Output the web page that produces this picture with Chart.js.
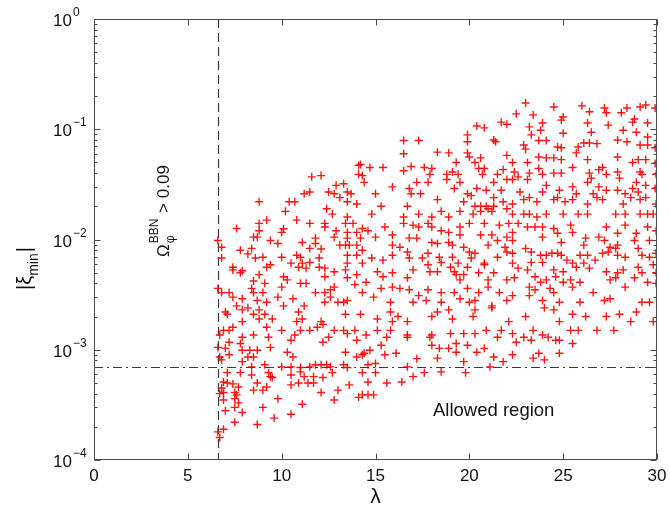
<!DOCTYPE html>
<html>
<head>
<meta charset="utf-8">
<script src="https://cdn.jsdelivr.net/npm/chart.js@4.4.0/dist/chart.umd.min.js"></script>
<style>
  html, body { margin: 0; padding: 0; background: #fff; }
  #wrap { width: 670px; height: 511px; }
</style>
</head>
<body>
<div id="wrap"><canvas id="c" width="670" height="511"></canvas></div>
<script>
// axis ticks
const xTicks = [0, 5, 10, 15, 20, 25, 30];
const yDecades = [-4, -3, -2, -1, 0];

// constraint lines
const lambdaCut = 6.6;   // Omega_phi^BBN > 0.09 to the left
const xiCut = 7e-4;      // allowed region below

// scan points [lambda, |xi_min|]
const samples = [
  [6.6,0.0098],[6.8,0.0085],[6.8,0.0068],[7.6,0.0126],[7.8,0.0080],[8.2,0.0074],[8.4,0.0083],[8.5,0.0105],
  [8.7,0.0105],[8.8,0.012],[8.8,0.014],[9.2,0.015],[8.8,0.022],[8.6,0.0068],[9.0,0.0069],[9.4,0.0098],
  [9.8,0.0092],[10.0,0.0116],[10.1,0.0125],[10.2,0.018],[10.4,0.022],[10.7,0.022],[10.8,0.015],[10.0,0.0069],
  [10.8,0.0072],[11.1,0.0094],[11.2,0.026],[11.5,0.027],[11.6,0.037],[12.1,0.038],[11.5,0.014],[11.5,0.0083],
  [11.8,0.0092],[12.1,0.0082],[12.3,0.014],[12.3,0.013],[12.4,0.019],[12.7,0.017],[12.5,0.027],[12.8,0.026],
  [12.9,0.031],[13.3,0.032],[13.1,0.024],[13.5,0.027],[13.7,0.026],[13.5,0.022],[14.0,0.021],[14.1,0.047],
  [14.1,0.039],[13.5,0.016],[13.4,0.014],[13.8,0.014],[12.9,0.012],[13.5,0.0116],[12.8,0.0105],[13.1,0.0089],
  [13.4,0.0089],[13.6,0.0089],[14.0,0.0089],[13.5,0.0103],[14.0,0.0116],[11.0,0.0069],[12.0,0.0068],[13.5,0.0072],
  [14.0,0.0072],[11.8,0.0103],
  [7.4,0.0056],[7.4,0.0053],[7.8,0.0050],[7.9,0.0052],[8.8,0.0048],[9.4,0.0059],[9.2,0.0056],[8.5,0.0042],
  [9.1,0.0040],[8.4,0.0036],[8.5,0.0033],[9.0,0.0033],[6.8,0.0033],[7.2,0.0033],[7.4,0.0030],[6.6,0.0036],
  [7.9,0.0029],[8.7,0.0028],[9.2,0.0027],[7.6,0.0025],[8.2,0.0024],[8.8,0.0023],[7.9,0.0023],[7.0,0.0022],
  [7.1,0.0021],[8.5,0.0021],[9.1,0.0021],[9.5,0.0019],[8.8,0.0019],[7.9,0.0018],[7.4,0.0016],[9.2,0.0016],
  [6.9,0.0015],[7.2,0.0015],[6.7,0.00136],[7.9,0.0013],[8.5,0.00136],[7.2,0.00117],[6.6,0.00105],[7.0,0.00103],
  [7.8,0.00114],[7.9,0.00099],[8.3,0.00099],[8.7,0.00099],[7.2,0.0009],[6.7,0.00086],[8.2,0.00086],[8.5,0.00086],
  [9.4,0.00105],[9.3,0.0013],[10.0,0.0015],[10.3,0.00095],[10.6,0.00086],[10.5,0.00122],[10.7,0.00136],[11.0,0.0015],
  [10.8,0.0018],[11.1,0.0019],[10.9,0.0022],[11.2,0.0025],[10.1,0.0025],[10.6,0.0029],[9.8,0.0030],[10.0,0.0037],
  [10.3,0.0043],[10.1,0.0046],[10.5,0.0061],[10.9,0.0056],[11.1,0.0061],[11.3,0.0055],[11.5,0.0062],[12.0,0.0056],
  [12.3,0.0055],[11.0,0.0040],[11.3,0.0040],[11.8,0.0033],[12.3,0.0033],[12.6,0.0035],[12.8,0.0037],[12.3,0.0046],
  [12.8,0.0051],[13.4,0.0053],[13.5,0.0045],[13.9,0.0039],[13.5,0.0061],[14.0,0.0048],[12.6,0.0030],[12.3,0.0027],
  [13.0,0.0027],[13.3,0.0027],[13.5,0.0028],[13.4,0.0021],[12.1,0.0018],[11.9,0.0016],[12.2,0.0017],[11.5,0.0015],
  [12.8,0.0015],[13.3,0.0015],[13.5,0.0014],[13.9,0.0015],[12.5,0.0013],[12.2,0.00117],[14.0,0.00122],[13.4,0.00095],
  [14.0,0.00086],
  [6.8,0.00081],[7.9,0.00078],[8.4,0.0007],[9.1,0.00073],[10.0,0.0007],[10.5,0.0007],[11.0,0.00069],[11.5,0.0007],
  [11.8,0.00073],[12.1,0.00073],[12.4,0.00073],[12.6,0.0007],[13.3,0.00073],[13.5,0.00069],[7.1,0.00062],[7.8,0.00062],
  [8.4,0.00059],[9.3,0.00062],[9.4,0.00057],[9.5,0.00056],[10.5,0.00059],[11.0,0.00063],[11.2,0.00057],[11.7,0.00057],
  [12.2,0.00056],[12.7,0.00062],[6.9,0.00051],[7.1,0.0005],[7.4,0.00049],[7.7,0.00046],[6.8,0.00045],[6.9,0.00041],
  [6.7,0.0004],[7.5,0.00041],[7.6,0.00039],[6.9,0.00035],[7.5,0.00036],[7.7,0.00033],[7.5,0.0003],[7.0,0.00028],
  [7.9,0.00027],[8.5,0.00043],[8.7,0.0005],[9.0,0.00043],[9.2,0.00046],[10.5,0.00048],[10.9,0.0005],[11.4,0.0005],
  [11.7,0.0005],[12.1,0.00041],[13.0,0.00043],[13.6,0.00048],[12.8,0.00035],[14.1,0.00037],[9.8,0.00036],[11.1,0.00032],
  [9.0,0.0003],[9.6,0.00024],[10.5,0.00026],[7.5,0.00022],[8.7,0.00021],[6.6,0.00018],[6.7,0.00016],[6.9,0.00019],
  [20.4,0.107],[20.8,0.103],[21.7,0.116],[22.0,0.111],[19.9,0.089],[19.9,0.077],[21.3,0.080],[21.4,0.077],
  [16.5,0.079],[17.3,0.079],[16.5,0.060],[18.3,0.062],[18.9,0.061],[19.9,0.061],[20.0,0.056],[22.0,0.058],
  [19.3,0.050],[20.3,0.050],[20.6,0.055],[20.5,0.044],[20.8,0.044],[20.7,0.039],[21.5,0.039],[21.8,0.043],
  [14.2,0.048],[14.7,0.045],[15.4,0.045],[16.5,0.042],[16.9,0.046],[17.6,0.045],[18.0,0.044],[17.9,0.039],
  [18.8,0.039],[19.1,0.041],[19.4,0.039],[18.8,0.035],[17.8,0.033],[14.3,0.038],[14.4,0.033],[15.9,0.030],
  [16.8,0.029],[16.9,0.026],[17.2,0.033],[17.4,0.026],[19.2,0.029],[19.5,0.033],[21.3,0.033],[22.0,0.035],
  [21.7,0.028],[20.4,0.029],[20.9,0.028],[19.9,0.026],[20.1,0.025],[18.3,0.023],[15.0,0.026],[15.3,0.020],
  [16.7,0.020],[17.3,0.017],[14.8,0.017],[19.7,0.022],[20.3,0.020],[20.6,0.020],[20.9,0.020],[21.3,0.020],
  [21.3,0.024],[21.8,0.022],[22.0,0.019],[20.6,0.018],[21.0,0.019],[21.2,0.018],[20.2,0.017],[19.5,0.018],
  [18.5,0.018],[18.9,0.016],[16.5,0.016],[18.0,0.016],
  [14.3,0.0126],[14.6,0.012],[15.5,0.013],[16.5,0.014],[17.0,0.0135],[17.3,0.013],[17.8,0.014],[18.0,0.013],
  [18.5,0.012],[18.9,0.0116],[19.5,0.013],[20.0,0.014],[20.8,0.014],[21.6,0.0135],[22.1,0.014],[14.2,0.0103],
  [15.0,0.0105],[15.9,0.011],[15.9,0.0089],[16.3,0.0085],[16.8,0.0103],[17.2,0.0103],[18.0,0.0094],[18.3,0.0092],
  [18.9,0.0094],[19.1,0.0089],[19.5,0.011],[19.7,0.0085],[20.6,0.011],[21.2,0.011],[21.5,0.0098],[22.0,0.0105],
  [21.0,0.0089],[21.9,0.0085],[14.3,0.0080],[14.8,0.0068],[15.9,0.0072],[15.4,0.0065],[16.7,0.0077],[16.8,0.0068],
  [17.5,0.0068],[17.8,0.0075],[18.4,0.0069],[18.5,0.0062],[19.1,0.0069],[20.0,0.0077],[20.3,0.0075],[20.1,0.0068],
  [20.8,0.0061],[21.5,0.0069],[22.0,0.0077],[14.3,0.0061],[15.1,0.0051],[15.4,0.0046],[15.9,0.0050],[16.7,0.0045],
  [17.0,0.0053],[17.8,0.0059],[17.9,0.0051],[18.3,0.0051],[19.0,0.0056],[19.2,0.0051],[19.4,0.0061],[19.3,0.0048],
  [19.5,0.0043],[19.7,0.0048],[19.9,0.0056],[20.5,0.0050],[20.8,0.0059],[21.3,0.0050],[22.0,0.0043],[21.0,0.0043],
  [14.5,0.0041],[15.3,0.0036],[15.9,0.0037],[16.3,0.0036],[16.8,0.0035],[17.3,0.0031],[17.8,0.0035],[18.5,0.0033],
  [19.2,0.0033],[19.9,0.0036],[20.5,0.0033],[21.0,0.0037],[21.6,0.0033],[14.3,0.0033],[14.9,0.0030],[15.8,0.0027],
  [17.0,0.0027],[17.7,0.0028],[18.5,0.0027],[19.5,0.0029],[20.0,0.0027],[20.3,0.0028],[21.2,0.0025],[22.0,0.0028],
  [14.2,0.0021],[15.1,0.0019],[15.8,0.0022],[15.9,0.0018],[16.2,0.0020],[16.7,0.0018],[16.7,0.00136],[18.0,0.0020],
  [18.3,0.0022],[18.9,0.0023],[19.1,0.0019],[19.0,0.0014],[18.0,0.00136],[20.2,0.0020],[20.3,0.0023],[20.9,0.0015],
  [21.2,0.0024],[21.7,0.0015],[22.1,0.0018],[15.8,0.0015],[15.1,0.0015],[14.5,0.00136],
  [23.0,0.173],[24.5,0.159],[26.0,0.163],[27.2,0.156],[27.3,0.141],[22.5,0.138],[23.4,0.135],[25.0,0.129],
  [24.9,0.121],[26.4,0.144],[28.1,0.141],[28.4,0.156],[29.1,0.159],[29.4,0.166],[29.9,0.156],[28.7,0.116],
  [28.8,0.124],[29.5,0.114],[23.9,0.114],[23.8,0.098],[23.2,0.105],[23.3,0.089],[26.3,0.114],[27.4,0.109],
  [26.5,0.094],[28.2,0.098],[28.9,0.094],[29.5,0.085],[25.0,0.092],[23.7,0.079],[24.1,0.079],[22.9,0.072],
  [23.0,0.066],[24.7,0.069],[24.9,0.068],[25.8,0.069],[26.1,0.075],[26.4,0.075],[26.8,0.074],[25.7,0.061],
  [27.9,0.080],[28.4,0.077],[29.1,0.072],[29.5,0.072],[29.9,0.068],[27.9,0.056],[22.3,0.050],[23.1,0.050],
  [23.7,0.056],[24.1,0.055],[24.5,0.055],[24.9,0.053],[26.3,0.053],[28.7,0.050],[29.0,0.053],[29.4,0.053],
  [29.9,0.049],[23.7,0.044],[25.5,0.045],[26.9,0.043],[27.1,0.045],[22.4,0.041],[22.6,0.037],[23.2,0.040],
  [23.9,0.039],[24.5,0.040],[24.9,0.040],[26.4,0.040],[26.5,0.036],[27.3,0.039],[27.9,0.041],[28.0,0.036],
  [29.1,0.041],[29.2,0.039],[29.95,0.039],[22.3,0.035],[23.1,0.035],[24.1,0.031],[25.5,0.030],[26.3,0.033],
  [26.9,0.030],[27.3,0.028],[28.7,0.029],[28.9,0.033],[29.4,0.031],[29.9,0.029],[22.7,0.027],[23.2,0.024],
  [23.9,0.027],[24.8,0.028],[25.7,0.026],[26.6,0.026],[27.9,0.028],[28.3,0.026],[29.0,0.027],[29.4,0.024],
  [22.9,0.023],[23.6,0.022],[24.5,0.023],[24.7,0.024],[25.1,0.022],[25.5,0.023],[26.3,0.021],[26.8,0.024],
  [27.1,0.023],[28.2,0.021],[28.6,0.024],[29.1,0.023],[29.95,0.021],[22.3,0.021],
  [22.3,0.017],[22.9,0.017],[23.2,0.017],[23.6,0.016],[24.1,0.017],[25.0,0.017],[25.8,0.017],[26.3,0.017],
  [27.8,0.017],[28.3,0.017],[29.1,0.017],[29.5,0.017],[29.8,0.017],[22.6,0.014],[23.1,0.013],[23.5,0.013],
  [23.9,0.013],[24.5,0.0126],[25.4,0.0135],[25.5,0.0116],[27.3,0.013],[28.3,0.0135],[28.9,0.0114],[29.5,0.013],
  [29.95,0.012],[22.3,0.0116],[22.3,0.0098],[23.9,0.0105],[24.7,0.0114],[24.9,0.0094],[26.2,0.0103],[26.9,0.0105],
  [27.2,0.0098],[27.9,0.0114],[28.8,0.0098],[29.6,0.0098],[26.1,0.0089],[27.5,0.0085],[27.9,0.0089],[29.0,0.0083],
  [22.3,0.0075],[23.0,0.0083],[23.3,0.0077],[23.8,0.0072],[24.1,0.0072],[24.4,0.0075],[24.7,0.0075],[24.9,0.0072],
  [25.2,0.0065],[25.5,0.0061],[25.9,0.0072],[26.3,0.0072],[26.7,0.0065],[27.1,0.0075],[27.4,0.0077],[27.8,0.0083],
  [27.9,0.0072],[28.3,0.0069],[29.2,0.0072],[29.6,0.0069],[29.95,0.0075],[22.3,0.0061],[22.6,0.0055],[23.1,0.0053],
  [23.3,0.0062],[23.9,0.0062],[24.5,0.0053],[25.0,0.0051],[25.7,0.0056],[26.1,0.0061],[26.4,0.0055],[27.3,0.0051],
  [27.9,0.0050],[28.2,0.0053],[29.0,0.0056],[29.2,0.0050],[29.8,0.0059],[29.95,0.0050],[22.4,0.0045],[23.5,0.0046],
  [23.8,0.0041],[24.1,0.0043],[24.6,0.0046],[25.0,0.0041],[25.4,0.0043],[25.5,0.0037],[25.9,0.0041],[27.5,0.0043],
  [27.8,0.0045],[28.3,0.0037],[28.8,0.0045],[29.5,0.0041],[29.95,0.0040],[23.2,0.0037],[23.5,0.0035],[24.3,0.0036],
  [24.5,0.0033],[26.6,0.0033],[22.3,0.0031],[23.2,0.0031],[23.9,0.0028],[24.8,0.0027],[25.9,0.0027],[27.2,0.0028],
  [27.5,0.0029],[29.2,0.0027],[29.6,0.0027],[24.0,0.0024],[24.5,0.0023],[25.5,0.0021],[27.3,0.0020],[28.0,0.0021],
  [28.9,0.0022],[23.0,0.0020],[24.8,0.0018],[26.2,0.0020],[28.6,0.0018],[29.8,0.0018],
  [14.3,0.0009],[14.4,0.00093],[14.7,0.00099],[15.3,0.0011],[15.6,0.0013],[15.5,0.0009],[16.1,0.00093],[16.7,0.0013],
  [17.9,0.0013],[18.0,0.0011],[18.4,0.00103],[17.2,0.00083],[18.3,0.00084],[18.9,0.00103],[19.3,0.00114],[19.3,0.00095],
  [19.7,0.0014],[19.9,0.0011],[20.3,0.0014],[20.4,0.00095],[20.8,0.00103],[21.3,0.00086],[21.5,0.0013],[21.8,0.00078],
  [22.3,0.0009],[22.3,0.0014],[22.5,0.00117],[22.9,0.0013],[23.3,0.00122],[23.4,0.0015],[23.4,0.00084],[23.7,0.00093],
  [23.9,0.00136],[24.0,0.00081],[24.2,0.0013],[24.6,0.00122],[24.8,0.00122],[24.8,0.00093],[25.5,0.00114],[25.4,0.0015],
  [25.8,0.0015],[26.8,0.0015],[27.7,0.0015],[14.3,0.00062],[14.6,0.00073],[15.0,0.00075],[15.0,0.00062],[14.6,0.00051],
  [15.6,0.0005],[16.4,0.00051],[17.0,0.00057],[16.7,0.0007],[17.6,0.00062],[18.5,0.00063],[19.8,0.00062],[19.7,0.00078],
  [21.1,0.0007],[14.3,0.00039],[14.6,0.00039],[14.9,0.00039]
];

const AXIS = '#4a4a4a';
const TEXT = '#111';
const FONT = '"Liberation Sans", Arial, Helvetica, sans-serif';

const decorations = {
  id: 'decorations',
  beforeDraw(chart) {
    const ctx = chart.ctx;
    ctx.save();
    ctx.fillStyle = '#fff';
    ctx.fillRect(0, 0, chart.width, chart.height);
    ctx.restore();
  },
  beforeDatasetsDraw(chart) {
    const { ctx, chartArea: a, scales: { x, y } } = chart;
    ctx.save();
    ctx.strokeStyle = '#3a3a3a';
    ctx.lineWidth = 1.2;
    // vertical BBN bound
    const vx = Math.round(x.getPixelForValue(lambdaCut)) + 0.5;
    ctx.setLineDash([9, 5]);
    ctx.beginPath();
    ctx.moveTo(vx, a.top);
    ctx.lineTo(vx, a.bottom);
    ctx.stroke();
    // horizontal bound, dash-dot
    const hy = Math.round(y.getPixelForValue(xiCut)) + 0.5;
    ctx.setLineDash([9, 4, 2, 4]);
    ctx.beginPath();
    ctx.moveTo(a.left, hy);
    ctx.lineTo(a.right, hy);
    ctx.stroke();
    ctx.restore();
  },
  afterDraw(chart) {
    const { ctx, chartArea: a, scales: { x, y } } = chart;
    ctx.save();
    ctx.strokeStyle = AXIS;
    ctx.lineWidth = 1;
    ctx.setLineDash([]);
    const L = a.left + 0.5, R = a.right - 0.5, T = a.top + 0.5, B = a.bottom - 0.5;
    ctx.strokeRect(L, T, R - L, B - T);

    // x ticks, inward on bottom and top
    ctx.beginPath();
    xTicks.forEach(v => {
      const px = Math.round(x.getPixelForValue(v)) + 0.5;
      ctx.moveTo(px, B); ctx.lineTo(px, B - 6);
      ctx.moveTo(px, T); ctx.lineTo(px, T + 6);
    });
    // y log ticks, inward on left and right
    yDecades.forEach(d => {
      for (let m = 1; m <= 9; m++) {
        if (d === 0 && m > 1) break;
        const py = Math.round(y.getPixelForValue(m * Math.pow(10, d))) + 0.5;
        const len = m === 1 ? 6 : 3;
        ctx.moveTo(L, py); ctx.lineTo(L + len, py);
        ctx.moveTo(R, py); ctx.lineTo(R - len, py);
      }
    });
    ctx.stroke();

    ctx.fillStyle = TEXT;
    // x tick labels
    ctx.font = '17px ' + FONT;
    ctx.textAlign = 'center';
    ctx.textBaseline = 'alphabetic';
    xTicks.forEach(v => {
      ctx.fillText(String(v), x.getPixelForValue(v), a.bottom + 21);
    });

    // y tick labels 10^d
    ctx.textAlign = 'left';
    yDecades.forEach(d => {
      const py = y.getPixelForValue(Math.pow(10, d));
      ctx.font = '17px ' + FONT;
      ctx.fillText('10', 53, py + 7);
      const w = ctx.measureText('10').width;
      ctx.font = '12px ' + FONT;
      ctx.fillText(d === 0 ? '0' : '\u2212' + Math.abs(d), 53 + w + 1, py - 3);
    });

    // x title
    ctx.font = '21px ' + FONT;
    ctx.textAlign = 'center';
    ctx.fillText('\u03bb', (a.left + a.right) / 2, 503);

    // y title |xi_min|
    ctx.save();
    ctx.translate(31, 290);
    ctx.rotate(-Math.PI / 2);
    ctx.textAlign = 'left';
    ctx.font = '20px ' + FONT;
    ctx.fillText('|\u03be', 0, 0);
    let w1 = ctx.measureText('|\u03be').width;
    ctx.font = '14px ' + FONT;
    ctx.fillText('min', w1, 7);
    w1 += ctx.measureText('min').width + 1;
    ctx.font = '20px ' + FONT;
    ctx.fillText('|', w1, 0);
    ctx.restore();

    // BBN annotation, rotated
    ctx.save();
    ctx.translate(169, 257);
    ctx.rotate(-Math.PI / 2);
    ctx.textAlign = 'left';
    ctx.font = '17px ' + FONT;
    ctx.fillText('\u03a9', 0, 0);
    const wo = ctx.measureText('\u03a9').width;
    ctx.font = '12px ' + FONT;
    ctx.fillText('BBN', wo + 1, -11);
    ctx.fillText('\u03c6', wo + 1, 5);
    const wb = ctx.measureText('BBN').width;
    ctx.font = '17px ' + FONT;
    ctx.fillText(' > 0.09', wo + wb + 2, 0);
    ctx.restore();

    // allowed region label
    ctx.font = '18.5px ' + FONT;
    ctx.textAlign = 'left';
    ctx.fillText('Allowed region', 433, 416);
    ctx.restore();
  }
};

new Chart(document.getElementById('c'), {
  type: 'scatter',
  data: {
    datasets: [{
      data: samples.map(p => ({ x: p[0], y: p[1] })),
      pointStyle: 'cross',
      pointRadius: 4,
      pointHoverRadius: 4,
      borderColor: 'rgba(255, 0, 0, 0.92)',
      backgroundColor: 'rgba(255, 0, 0, 0.92)',
      borderWidth: 1.4
    }]
  },
  options: {
    responsive: false,
    animation: false,
    layout: { padding: { left: 94, right: 13, top: 19, bottom: 51 } },
    scales: {
      x: { type: 'linear', min: 0, max: 30, display: false },
      y: { type: 'logarithmic', min: 1e-4, max: 1, display: false }
    },
    plugins: { legend: { display: false }, tooltip: { enabled: false } }
  },
  plugins: [decorations]
});
</script>
</body>
</html>
